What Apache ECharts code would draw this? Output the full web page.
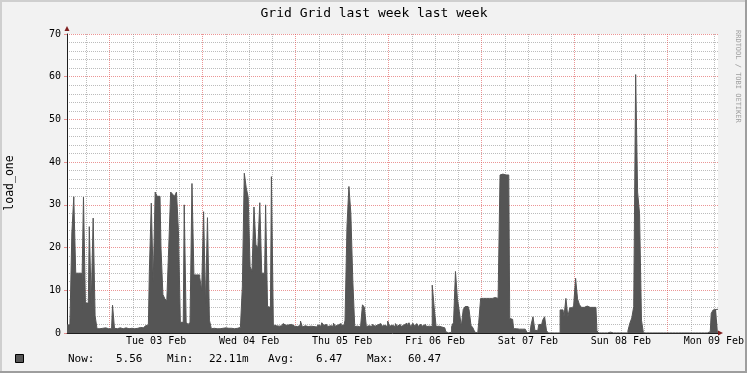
<!DOCTYPE html>
<html><head><meta charset="utf-8">
<script src="https://cdn.jsdelivr.net/npm/echarts@6/dist/echarts.min.js"></script>
<style>html,body{margin:0;padding:0;background:#f2f2f2}#c{width:747px;height:373px}</style>
</head><body><div id="c"></div>
<script>
// 30-minute samples, Mon 02 Feb 13:00 .. Mon 09 Feb 13:00
const dayLabels = ['Tue 03 Feb','Wed 04 Feb','Thu 05 Feb','Fri 06 Feb','Sat 07 Feb','Sun 08 Feb','Mon 09 Feb'];
const loadOne = [
  1.9,1.9,1.9,23.4,31.9,14,14,14,5.8,31.8,
  7,7,24.9,7,26.9,4,1.0,1.0,1.1,1.0,
  1.2,1.0,1.1,1.0,6.5,1.1,1.0,1.2,1.1,1.0,
  1.2,1.1,1.0,1.1,1.2,1.0,1.1,1.2,1.3,1.2,
  1.5,1.7,1.9,14.4,30.4,12,33,32,32,20,
  9,8,7.5,20,33,32.5,32,33,24,2.5,
  2.5,30,2.5,2.0,2.5,35,13.6,13.6,13.6,13,
  10,28.4,7,27,3,1.0,1.1,1.0,1.2,1.0,
  1.1,1.0,1.2,1.1,1.0,1.1,1.0,1.2,1.1,1.3,
  1.5,10.8,37.4,34,31.8,15.5,14.5,29.5,20.6,20,
  30.5,14,14,30,6.2,6,36.6,1.9,1.7,1.6,
  2.0,1.7,2.2,1.8,1.9,1.5,2.0,1.6,1.4,1.5,
  1.8,2.8,1.4,1.7,1.5,1.8,1.6,1.5,1.7,1.4,
  1.9,1.6,2.4,1.8,2.0,1.5,1.7,1.6,2.3,1.6,
  1.9,2.2,1.7,1.8,3,25,34.3,28,12.4,1.5,
  1.6,1.4,1.8,6.6,6.0,1.5,1.7,1.5,2.0,1.6,
  1.9,1.5,2.2,1.6,1.8,1.5,2.8,1.6,1.8,1.5,
  2.2,1.6,2.0,1.5,1.9,2.3,1.5,2.4,1.4,2.3,
  1.6,2.2,1.5,2.1,1.6,2.0,1.5,1.6,1.5,11.2,
  6,1.5,1.6,1.4,1.5,1.2,0.3,0.02,0.2,1.5,
  2.5,14.4,8,5,1.5,5.5,6.2,6.2,5.5,1.8,
  1.2,0.2,0.02,2.5,8.1,8.1,8.1,8.1,8.1,8.1,
  8.1,8.3,8.1,8.1,37.0,37.2,37.0,37.2,37.0,3.4,
  3.2,1.0,1.0,0.9,0.9,0.9,0.9,0.9,0.1,0.1,
  1.9,3.8,0.6,0.6,2.0,2.0,3.0,3.8,0.5,0.02,
  0.02,0.02,0.02,0.02,0.02,5.4,5.4,3.8,8.1,3.8,
  5.9,5.9,6.5,12.8,8,6.6,6.0,6.0,6.3,6.0,
  6.0,6.0,6.0,6.0,0.5,0.02,0.02,0.02,0.02,0.02,
  0.2,0.02,0.02,0.02,0.02,0.02,0.02,0.02,0.02,0.02,
  0.5,2.3,3.5,6.2,60.5,33,28,3,0.02,0.02,
  0.02,0.02,0.02,0.02,0.02,0.02,0.02,0.02,0.02,0.02,
  0.02,0.02,0.02,0.02,0.02,0.02,0.02,0.02,0.02,0.02,
  0.02,0.02,0.02,0.02,0.02,0.02,0.02,0.02,0.02,0.02,
  0.02,0.02,0.3,4.6,5.4,5.5,5.56
];
const legendNames = ['Now:','Min:','Avg:','Max:'];
const legendValues = ['5.56','22.11m','6.47','60.47'];
const titleText = 'Grid Grid last week last week';
const yName = 'load_one';
const yMax = 70;
const samplesPerDay = 48;       // 30-min samples
const firstMidnight = 22;       // sample index of Tue 03 Feb 00:00
const minorOffsets = [10, 34, 46];   // 6h grid lines that are not midnight (mod 48)
const hMinorOffsets = [2, 4, 6, 8];  // minor horizontal grid lines (mod 10)

const MONO = '"DejaVu Sans Mono", monospace';
const GRID = 'rgba(143,143,143,0.6)';
const MGRID = 'rgba(222,79,79,0.6)';

// plot area box
const L = 67, R = 718, T = 34, B = 333;
const N = loadOne.length - 1;
const px = (R - L) / N, py = (B - T) / yMax;
function box(x0, x1, y0, y1) {
  return {left: L + x0*px, width: (x1-x0)*px, top: T + (yMax-y1)*py, height: (y1-y0)*py, show:false};
}
const hidden = {axisLine:{show:false}, axisTick:{show:false}, axisLabel:{show:false}};
function valAx(gi, min, max, interval, split, extra) {
  return Object.assign({type:'value', gridIndex:gi, min, max, interval,
    splitLine: split ? {show:true, lineStyle:{color:split, type:[1,1], width:1}} : {show:false}}, hidden, extra||{});
}

const grids = [Object.assign(box(0, N, 0, yMax), {show:true, backgroundColor:'#ffffff', borderWidth:0})];
const xAxes = [valAx(0, 0, N, samplesPerDay, null, {axisLine:{show:true, onZero:false, lineStyle:{color:'#1f1f1f', width:1}}})];
const yAxes = [valAx(0, 0, yMax, 10, MGRID, {
  axisLine:{show:true, onZero:false, lineStyle:{color:'#1f1f1f', width:1}},
  axisTick:{show:true, length:3, lineStyle:{color:MGRID}},
  axisLabel:{show:true, fontFamily:MONO, fontSize:10, color:'#000', margin:6}
})];
// minor horizontal grid lines
hMinorOffsets.forEach(o => {
  const gi = grids.length;
  grids.push(box(0, N, o, o + 60));
  xAxes.push(valAx(gi, 0, N, samplesPerDay, null));
  yAxes.push(valAx(gi, o, o + 60, 10, GRID));
});
// minor vertical grid lines
minorOffsets.forEach(o => {
  const gi = grids.length;
  const last = o + samplesPerDay * Math.floor((N - o) / samplesPerDay);
  grids.push(box(o, last, 0, yMax));
  xAxes.push(valAx(gi, o, last, samplesPerDay, GRID));
  yAxes.push(valAx(gi, 0, yMax, 10, null));
});
// major (midnight) vertical grid lines
{
  const gi = grids.length;
  const last = firstMidnight + samplesPerDay * Math.floor((N - firstMidnight) / samplesPerDay);
  grids.push(box(firstMidnight, last, 0, yMax));
  xAxes.push(valAx(gi, firstMidnight, last, samplesPerDay, MGRID));
  yAxes.push(valAx(gi, 0, yMax, 10, null));
}
// day labels at noon
{
  const gi = grids.length;
  const noon = firstMidnight + samplesPerDay / 2;
  const last = noon + samplesPerDay * (dayLabels.length - 1);
  grids.push(box(noon, last, 0, yMax));
  xAxes.push(valAx(gi, noon, last, samplesPerDay, null, {
    axisLabel:{show:true, margin:3, fontFamily:MONO, fontSize:10, color:'#000', showMinLabel:true, showMaxLabel:true,
      formatter:(v)=> dayLabels[Math.round((v - noon) / samplesPerDay)] || ''}
  }));
  yAxes.push(valAx(gi, 0, yMax, 10, null));
}

const chart = echarts.init(document.getElementById('c'), null, {renderer:'canvas'});
const legendX = [[68,116],[167,209],[268,316],[367,408]];
const txt = (x, y, text, font, fill, align, extra) => Object.assign({type:'text', x, y,
  style:{text, font, fill, align, verticalAlign:'middle', textAlign:align, textVerticalAlign:'middle'}}, extra||{});
const graphics = [
  {type:'rect', shape:{x:0,y:0,width:747,height:2}, style:{fill:'#cfcfcf'}},
  {type:'rect', shape:{x:0,y:0,width:2,height:373}, style:{fill:'#cfcfcf'}},
  {type:'rect', shape:{x:745,y:0,width:2,height:373}, style:{fill:'#9e9e9e'}},
  {type:'rect', shape:{x:0,y:371,width:747,height:2}, style:{fill:'#9e9e9e'}},
  txt(374, 14, titleText, '13px '+MONO, '#000', 'center'),
  txt(10, 183, yName, '11.5px '+MONO, '#000', 'center', {rotation:Math.PI/2}),
  txt(738, 30, 'RRDTOOL / TOBI OETIKER', '7px '+MONO, '#a0a0a0', 'left', {rotation:-Math.PI/2}),
  {type:'polygon', shape:{points:[[64.5,31],[69.5,31],[67,26]]}, style:{fill:'#801f1f'}, z:100},
  {type:'polygon', shape:{points:[[718,330.5],[718,335.5],[723,333]]}, style:{fill:'#801f1f'}, z:100},
  {type:'rect', shape:{x:15.5,y:354.5,width:8,height:8}, style:{fill:'#555555', stroke:'#000', lineWidth:1}}
];
legendNames.forEach((n,k)=>{
  graphics.push(txt(legendX[k][0], 359, n, '11px '+MONO, '#000', 'left'));
  graphics.push(txt(legendX[k][1], 359, legendValues[k], '11px '+MONO, '#000', 'left'));
});

chart.setOption({
  animation:false,
  backgroundColor:'#f2f2f2',
  grid:grids,
  xAxis:xAxes,
  yAxis:yAxes,
  series:[{
    type:'line', data:loadOne.map((v,i)=>[i,v]), xAxisIndex:0, yAxisIndex:0, step:'middle', symbol:'none', silent:true,
    lineStyle:{width:1, color:'#555555'}, areaStyle:{color:'#555555', opacity:1}, z:3
  }],
  graphic:graphics
});
</script></body></html>
